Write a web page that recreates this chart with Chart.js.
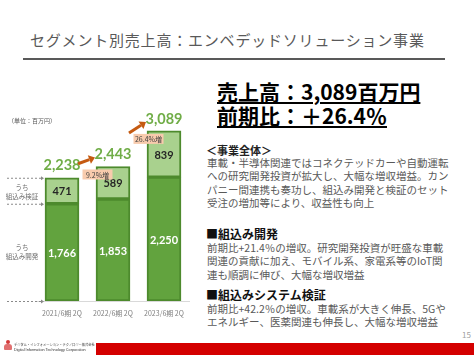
<!DOCTYPE html>
<html lang="ja">
<head>
<meta charset="utf-8">
<script src="https://cdn.jsdelivr.net/npm/chart.js@4/dist/chart.umd.min.js"></script>
<style>
  html,body{margin:0;padding:0;}
  body{width:474px;height:355px;overflow:hidden;background:#fff;position:relative;font-family:"Noto Sans CJK JP","Noto Sans",sans-serif;}
  .abs{position:absolute;white-space:nowrap;}
  #title{left:30px;top:32px;font-size:15px;line-height:16px;color:#595959;letter-spacing:0.8px;}
  #rule{left:23px;top:58px;width:422px;height:1.5px;background:#595959;}
  #head{left:217px;top:79px;font-size:21px;line-height:24px;font-weight:bold;color:#000;text-decoration:underline;text-decoration-thickness:1.5px;text-underline-offset:2px;}
  .sec{font-size:11px;font-weight:bold;color:#222;line-height:14px;}
  .body{font-size:10.5px;color:#595959;line-height:13.4px;}
  .h2{font-size:12px;font-weight:bold;color:#111;line-height:14px;}
  .note{font-size:6px;color:#595959;}
  .ann{font-size:6.5px;color:#6f6f6f;text-align:center;line-height:9px;width:40px;}
  #chart{position:absolute;left:0;top:100px;}
  #corp{left:14px;top:342px;font-size:6.5px;line-height:10px;color:#333;transform:scale(0.5);transform-origin:0 0;}
</style>
</head>
<body>
<div class="abs" id="title">セグメント別売上高：エンベデッドソリューション事業</div>
<div class="abs" id="rule"></div>

<canvas id="chart" width="200" height="225"></canvas>

<div class="abs note" style="left:8px;top:116px;">（単位：百万円）</div>
<div class="abs ann" style="left:2px;top:183px;">うち<br>組込み検証</div>
<div class="abs ann" style="left:2px;top:243px;">うち<br>組込み開発</div>

<div class="abs" id="head">売上高：3,089百万円<br>前期比：＋26.4％</div>

<div class="abs sec" style="left:206px;top:143px;">＜事業全体＞</div>
<div class="abs body" style="left:207px;top:156px;">車載・半導体関連ではコネクテッドカーや自動運転<br>への研究開発投資が拡大し、大幅な増収増益。カン<br>パニー間連携も奏功し、組込み開発と検証のセット<br>受注の増加等により、収益性も向上</div>

<div class="abs h2" style="left:206px;top:227px;">■組込み開発</div>
<div class="abs body" style="left:207px;top:241px;">前期比+21.4％の増収。研究開発投資が旺盛な車載<br>関連の貢献に加え、モバイル系、家電系等のIoT関<br>連も順調に伸び、大幅な増収増益</div>

<div class="abs h2" style="left:206px;top:288px;">■組込みシステム検証</div>
<div class="abs body" style="left:207px;top:302px;">前期比+42.2％の増収。車載系が大きく伸長、5Gや<br>エネルギー、医薬関連も伸長し、大幅な増収増益</div>

<div class="abs" style="left:462px;top:329px;font-size:8px;color:#a0a0a0;">15</div>

<div class="abs" style="left:96px;top:343px;width:378px;height:12px;background:#d40000;"></div>
<div class="abs" style="left:4px;top:340px;width:8px;height:11px;">
  <div style="position:absolute;left:2px;top:0;width:4px;height:4px;border-radius:50%;background:#d43a3a;"></div>
  <div style="position:absolute;left:0;top:4px;width:8px;height:6px;border-radius:3px 3px 1px 1px;background:#e07070;"></div>
</div>
<div class="abs" id="corp"><span>デジタル・インフォメーション・テクノロジー株式会社</span><br><span style="font-family:'Liberation Sans';font-size:7.6px;">Digital Information Technology Corporation</span></div>

<script>
const categories = ["2021/6期 2Q", "2022/6期 2Q", "2023/6期 2Q"];
const devValues = [1766, 1853, 2250];      // 組込み開発
const verifyValues = [471, 589, 839];      // 組込み検証
const totals = [2238, 2443, 3089];
const growthLabels = ["9.2%増", "26.4%増"];

const NUMFONT = '"Lato","Open Sans",sans-serif';

const overlay = {
  id: 'overlay',
  afterDatasetsDraw(chart) {
    const ctx = chart.ctx;
    const x = chart.scales.x, y = chart.scales.y;
    const metaDev = chart.getDatasetMeta(0), metaVer = chart.getDatasetMeta(1);
    ctx.save();
    ctx.textAlign = 'center';
    ctx.textBaseline = 'middle';
    for (let i = 0; i < categories.length; i++) {
      const bd = metaDev.data[i], bv = metaVer.data[i];
      ctx.font = 'bold 11px ' + NUMFONT;
      ctx.fillStyle = '#ffffff';
      ctx.fillText(devValues[i].toLocaleString('en-US'), bd.x, (bd.y + bd.base) / 2 + 1);
      ctx.fillStyle = '#262626';
      ctx.fillText(verifyValues[i].toLocaleString('en-US'), bv.x, (bv.y + bv.base) / 2 + 1);
    }
    const tops = totals.map(v => y.getPixelForValue(v));
    const cx = categories.map((c, i) => x.getPixelForValue(i));
    ctx.font = 'bold 14.5px ' + NUMFONT;
    ctx.fillStyle = '#70ad47';
    for (let i = 0; i < totals.length; i++) {
      ctx.fillText(totals[i].toLocaleString('en-US'), cx[i], tops[i] - 12);
    }
    ctx.strokeStyle = '#c55a11';
    ctx.fillStyle = '#c55a11';
    ctx.lineWidth = 3;
    for (let i = 0; i < totals.length - 1; i++) {
      const sx = cx[i] + 16, sy = tops[i + 1] - 5 + 0.2 * (tops[i] - tops[i + 1]);
      const ex = cx[i + 1] - 18, ey = tops[i + 1] - 9;
      const ang = Math.atan2(ey - sy, ex - sx);
      const hl = 6, hw = 4.5;
      const bx = ex - hl * Math.cos(ang), by = ey - hl * Math.sin(ang);
      ctx.beginPath();
      ctx.moveTo(sx, sy);
      ctx.lineTo(bx, by);
      ctx.stroke();
      ctx.beginPath();
      ctx.moveTo(ex, ey);
      ctx.lineTo(bx + hw * Math.sin(ang), by - hw * Math.cos(ang));
      ctx.lineTo(bx - hw * Math.sin(ang), by + hw * Math.cos(ang));
      ctx.closePath();
      ctx.fill();
    }
    for (let i = 0; i < growthLabels.length; i++) {
      const bxc = cx[i + 1] - 15.5, byc = tops[i + 1] + 8;
      const w = 30, h = 10;
      ctx.fillStyle = '#f8cbad';
      ctx.fillRect(bxc - w / 2, byc - h / 2, w, h);
      ctx.fillStyle = '#404040';
      ctx.font = '7px "Noto Sans CJK JP", sans-serif';
      ctx.fillText(growthLabels[i], bxc, byc + 0.5);
    }
    const b0 = metaDev.data[0];
    const guideYs = [y.getPixelForValue(totals[0]), y.getPixelForValue(devValues[0]), y.getPixelForValue(0)];
    const endX = b0.x - b0.width / 2 - 1;
    ctx.strokeStyle = '#8a8a8a';
    ctx.fillStyle = '#8a8a8a';
    ctx.lineWidth = 1;
    guideYs.forEach(gy => {
      ctx.setLineDash([2, 2]);
      ctx.beginPath();
      ctx.moveTo(7, gy + 0.5);
      ctx.lineTo(endX - 3, gy + 0.5);
      ctx.stroke();
      ctx.setLineDash([]);
      ctx.beginPath();
      ctx.moveTo(endX, gy + 0.5);
      ctx.lineTo(endX - 3, gy - 1.5);
      ctx.lineTo(endX - 3, gy + 2.5);
      ctx.closePath();
      ctx.fill();
    });
    ctx.restore();
  }
};

new Chart(document.getElementById('chart'), {
  type: 'bar',
  data: {
    labels: categories,
    datasets: [
      { label: '組込み開発', data: devValues, backgroundColor: '#62a33e', borderColor: '#4d8a2d', borderWidth: 2, borderSkipped: false, barThickness: 34 },
      { label: '組込み検証', data: verifyValues, backgroundColor: '#a9d18e', borderColor: '#4d8a2d', borderWidth: 2, borderSkipped: false, barThickness: 34 }
    ]
  },
  options: {
    responsive: false,
    animation: false,
    devicePixelRatio: 1,
    layout: { padding: { left: 36.5, right: 10.5, top: 0, bottom: 2 } },
    plugins: { legend: { display: false }, tooltip: { enabled: false } },
    scales: {
      x: {
        stacked: true,
        grid: { display: false, drawTicks: false },
        border: { display: true, color: '#d9d9d9', width: 1 },
        ticks: { color: '#7f7f7f', font: { size: 7, family: '"Noto Sans CJK JP", sans-serif' }, padding: 8, maxRotation: 0 },
        afterFit: (s) => { s.height = 22; }
      },
      y: { stacked: true, display: false, min: 0, max: 3650 }
    }
  },
  plugins: [overlay]
});
</script>
</body>
</html>
